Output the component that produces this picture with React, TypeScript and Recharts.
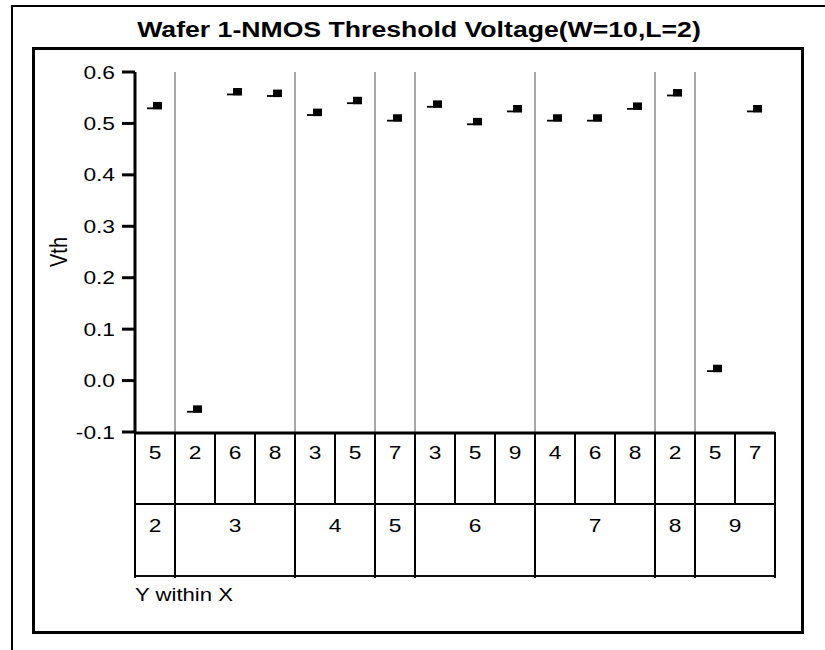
import { ScatterChart, Scatter, XAxis, YAxis, ReferenceLine } from 'recharts';

// X (outer factor) levels and the Y levels nested inside each
const xLevels = ['2', '3', '4', '5', '6', '7', '8', '9'];
const yWithin = [['5'], ['2', '6', '8'], ['3', '5'], ['7'], ['3', '5', '9'], ['4', '6', '8'], ['2'], ['5', '7']];
// Vth per cell
const vth = [0.535, -0.055, 0.562, 0.559, 0.522, 0.545, 0.511, 0.538, 0.504, 0.529, 0.511, 0.511, 0.534, 0.56, 0.024, 0.529];
const yTicks = [-0.1, 0, 0.1, 0.2, 0.3, 0.4, 0.5, 0.6];

const cellLabels = yWithin.flat();
const nCells = cellLabels.length;
const groupStarts: number[] = [];
let acc = 0;
yWithin.forEach((g) => {
  groupStarts.push(acc);
  acc += g.length;
});
const groupCenters = groupStarts.map((s, i) => s + yWithin[i].length / 2);
const groupEdges = new Set([...groupStarts, nCells]);
const cellCenters = cellLabels.map((_, i) => i + 0.5);
const cellEdges = [...cellLabels.map((_, i) => i), nCells];
const data = vth.map((v, i) => ({ idx: cellCenters[i], v }));

const FONT = '"Liberation Sans", Arial, Helvetica, sans-serif';
const SX = 1.23; // the reference text is stretched sideways
const ROW = 71;
const thick = { stroke: '#000', strokeWidth: 3 };

function Stretch({ x, y, anchor = 'middle', size = 18.5, children }: any) {
  return (
    <text transform={`translate(${x},${y}) scale(${SX},1)`} textAnchor={anchor} fontSize={size} fontFamily={FONT} fill="#000">
      {children}
    </text>
  );
}

const CellTick = ({ x, y, payload }: any) => <Stretch x={x} y={y + 26}>{cellLabels[Math.floor(payload.value)]}</Stretch>;

const GroupTick = ({ x, y, payload }: any) => {
  const i = groupCenters.indexOf(payload.value);
  return <Stretch x={x} y={y + 28}>{xLevels[i]}</Stretch>;
};

const EdgeTick = ({ x, y, payload }: any) => (
  <line x1={x} x2={x} y1={y} y2={y + (groupEdges.has(payload.value) ? 2 * ROW + 4 : ROW + 1)} stroke="#000" strokeWidth={2} />
);

const VTick = ({ x, y, payload }: any) => (
  <Stretch x={x} y={y + 6.6} anchor="end">
    {payload.value.toFixed(1)}
  </Stretch>
);

const Marker = ({ cx, cy }: any) => (
  <g>
    <rect x={cx - 2} y={cy - 3.5} width={9} height={7.5} fill="#000" />
    <rect x={cx - 8} y={cy + 2} width={6} height={1.8} fill="#000" />
  </g>
);

const Nothing = () => <g />;

export default function App() {
  return (
    <div style={{ position: 'absolute', left: 0, top: 0, width: 825, height: 650, fontFamily: FONT, background: '#fff' }}>
      <div style={{ position: 'absolute', left: 11, top: 5, width: 814, height: 645, borderLeft: '2px solid #000', borderTop: '2px solid #000', boxSizing: 'border-box' }} />
      <div style={{ position: 'absolute', left: 32, top: 47, width: 772, height: 587, border: '3px solid #000', boxSizing: 'border-box' }} />
      <div
        style={{
          position: 'absolute', left: 2, top: 19, width: 834, textAlign: 'center', fontSize: 22, lineHeight: '22px',
          fontWeight: 'bold', color: '#000', transform: `scaleX(${SX - 0.02})`, whiteSpace: 'nowrap',
        }}
      >
        Wafer 1-NMOS Threshold Voltage(W=10,L=2)
      </div>
      <div style={{ position: 'absolute', left: 0, top: 0 }}>
        <ScatterChart width={825} height={650} margin={{ top: 72, right: 50, bottom: 0, left: 0 }}>
          <XAxis xAxisId="top" orientation="top" type="number" dataKey="idx" domain={[0, nCells]} height={0} tick={false} tickLine={false} axisLine={thick} />
          <XAxis xAxisId="a_edge" type="number" dataKey="idx" domain={[0, nCells]} ticks={cellEdges} interval={0} height={1} tickSize={0} tickMargin={0} tick={EdgeTick} tickLine={false} axisLine={false} />
          <XAxis xAxisId="b_cell" type="number" dataKey="idx" domain={[0, nCells]} ticks={cellCenters} interval={0} height={ROW} tickSize={0} tickMargin={0} tick={CellTick} tickLine={false} axisLine={thick} />
          <XAxis xAxisId="c_group" type="number" dataKey="idx" domain={[0, nCells]} ticks={groupCenters} interval={0} height={ROW + 1} tickSize={0} tickMargin={0} tick={GroupTick} tickLine={false} axisLine={{ stroke: '#000', strokeWidth: 2 }} />
          <XAxis
            xAxisId="d_foot" type="number" dataKey="idx" domain={[0, nCells]} height={74} tick={false} tickLine={false}
            axisLine={{ stroke: '#111', strokeWidth: 2 }}
            label={{ content: ({ viewBox }: any) => <Stretch x={viewBox.x} y={viewBox.y + 25} anchor="start" size={18}>Y within X</Stretch> }}
          />
          <YAxis
            yAxisId="v" type="number" dataKey="v" domain={[-0.1, 0.6]} ticks={yTicks} interval={0} width={135} tickSize={13} tickMargin={7}
            tick={VTick} tickLine={thick} axisLine={thick}
            label={{
              content: ({ viewBox }: any) => (
                <text transform={`translate(59,${viewBox.y + viewBox.height / 2}) scale(${SX},1) rotate(-90)`} textAnchor="middle" dominantBaseline="central" fontSize={20} fontFamily={FONT} fill="#000">
                  Vth
                </text>
              ),
            }}
          />
          <YAxis yAxisId="right" orientation="right" type="number" dataKey="v" domain={[-0.1, 0.6]} width={0} tick={false} tickLine={false} axisLine={thick} />
          {groupStarts.slice(1).map((s) => (
            <ReferenceLine key={s} xAxisId="b_cell" yAxisId="v" x={s} stroke="#a8a8a8" strokeWidth={2} />
          ))}
          {/* invisible series so the helper axes get their scales */}
          <Scatter data={data} xAxisId="top" yAxisId="right" dataKey="v" shape={Nothing} isAnimationActive={false} legendType="none" />
          <Scatter data={data} xAxisId="a_edge" yAxisId="v" dataKey="v" shape={Nothing} isAnimationActive={false} legendType="none" />
          <Scatter data={data} xAxisId="c_group" yAxisId="v" dataKey="v" shape={Nothing} isAnimationActive={false} legendType="none" />
          <Scatter data={data} xAxisId="d_foot" yAxisId="v" dataKey="v" shape={Nothing} isAnimationActive={false} legendType="none" />
          <Scatter data={data} xAxisId="b_cell" yAxisId="v" dataKey="v" shape={Marker} isAnimationActive={false} />
        </ScatterChart>
      </div>
    </div>
  );
}
